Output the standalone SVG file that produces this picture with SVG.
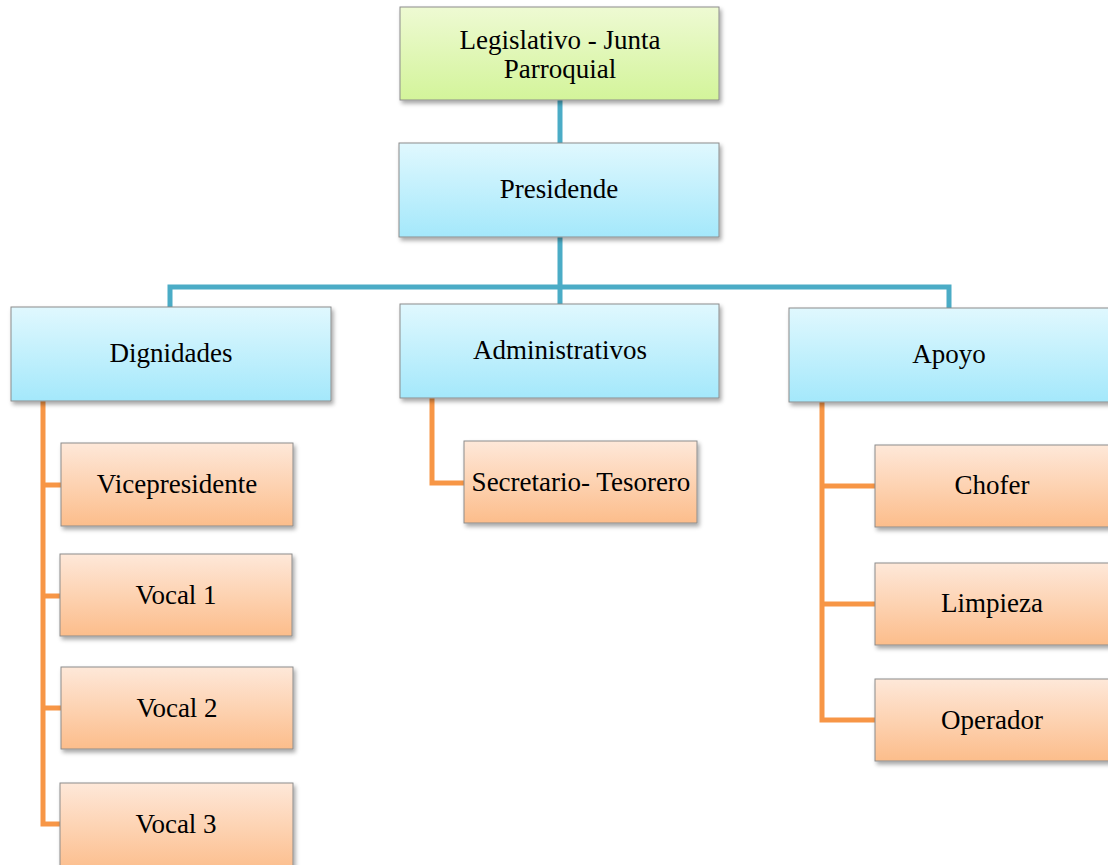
<svg xmlns="http://www.w3.org/2000/svg" width="1108" height="865" viewBox="0 0 1108 865">
<defs>
<linearGradient id="gGreen" x1="0" y1="0" x2="0" y2="1"><stop offset="0" stop-color="#eefad3"/><stop offset="1" stop-color="#d3f49a"/></linearGradient>
<linearGradient id="gBlue" x1="0" y1="0" x2="0" y2="1"><stop offset="0" stop-color="#e0f8fe"/><stop offset="1" stop-color="#a4e8fb"/></linearGradient>
<linearGradient id="gOrange" x1="0" y1="0" x2="0" y2="1"><stop offset="0" stop-color="#fee8d9"/><stop offset="1" stop-color="#fcbd8b"/></linearGradient>
<filter id="sh" x="-5%" y="-10%" width="115%" height="130%"><feDropShadow dx="2" dy="3" stdDeviation="2" flood-color="#000" flood-opacity="0.35"/></filter>
<style>
.box{stroke:#8c8c8c;stroke-width:1;filter:url(#sh)}
.g{fill:url(#gGreen)}
.b{fill:url(#gBlue)}
.o{fill:url(#gOrange)}
text{font-family:"Liberation Serif","Times New Roman",serif;font-size:27px;fill:#000;text-anchor:middle;dominant-baseline:central}
.cb{fill:none;stroke:#4bacc6;stroke-width:5}
.co{fill:none;stroke:#f79646;stroke-width:5}
</style>
</defs>
<g id="connectors">
<path class="cb" d="M560 100V143"/>
<path class="cb" d="M560 237V287M170 307V287H949V308M560 287V304"/>
<path class="co" d="M43 401V824H61M43 485H61M43 596H61M43 708H61"/>
<path class="co" d="M432 398V483H464"/>
<path class="co" d="M822 402V720H875M822 486H875M822 604H875"/>
</g>
<g id="legislativo"><rect class="box g" x="400" y="7" width="319" height="93"/><text x="560" y="40" font-size="26">Legislativo - Junta</text><text x="560" y="69" font-size="26">Parroquial</text></g>
<g id="presidende"><rect class="box b" x="399" y="143" width="320" height="94"/><text x="559" y="189">Presidende</text></g>
<g id="dignidades"><rect class="box b" x="11" y="307" width="320" height="94"/><text x="171" y="353">Dignidades</text></g>
<g id="administrativos"><rect class="box b" x="400" y="304" width="319" height="94"/><text x="560" y="350">Administrativos</text></g>
<g id="apoyo"><rect class="box b" x="789" y="308" width="325" height="94"/><text x="949" y="354">Apoyo</text></g>
<g id="vicepresidente"><rect class="box o" x="61" y="443" width="232" height="83"/><text x="177" y="484">Vicepresidente</text></g>
<g id="vocal1"><rect class="box o" x="60" y="554" width="232" height="82"/><text x="176" y="595">Vocal 1</text></g>
<g id="vocal2"><rect class="box o" x="61" y="667" width="232" height="82"/><text x="177" y="708">Vocal 2</text></g>
<g id="vocal3"><rect class="box o" x="60" y="783" width="233" height="90"/><text x="176" y="824">Vocal 3</text></g>
<g id="secretario"><rect class="box o" x="464" y="441" width="233" height="82"/><text x="581" y="482">Secretario- Tesorero</text></g>
<g id="chofer"><rect class="box o" x="875" y="445" width="240" height="82"/><text x="992" y="485">Chofer</text></g>
<g id="limpieza"><rect class="box o" x="875" y="563" width="240" height="82"/><text x="992" y="603">Limpieza</text></g>
<g id="operador"><rect class="box o" x="875" y="679" width="240" height="82"/><text x="992" y="720">Operador</text></g>
</svg>
